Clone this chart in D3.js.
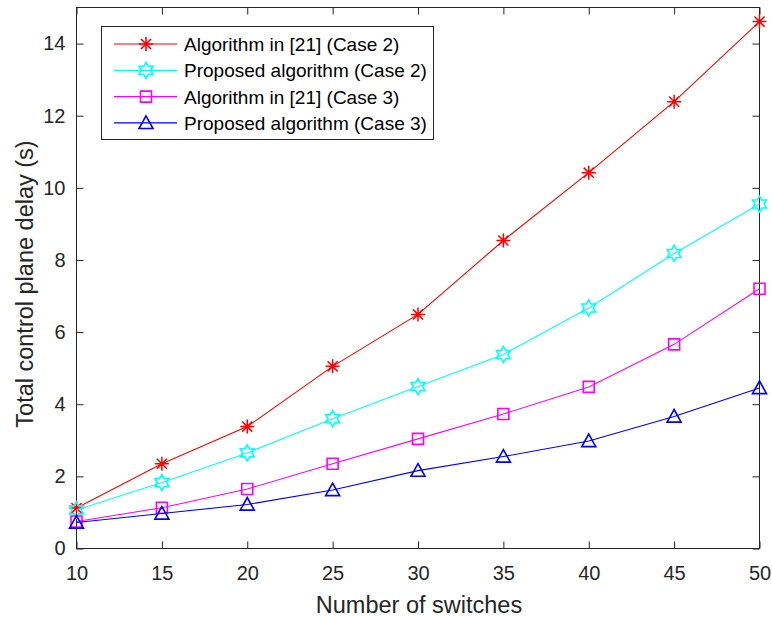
<!DOCTYPE html>
<html><head><meta charset="utf-8">
<script src="https://cdn.jsdelivr.net/npm/d3@7"></script>
<style>body{margin:0;background:#fff;} text{font-family:"Liberation Sans",Arial,Helvetica,sans-serif;}</style>
</head><body>
<svg id="c" width="772" height="617"></svg>
<script>
const switches = [10,15,20,25,30,35,40,45,50];
const algo21Case2 = [1.12,2.35,3.38,5.05,6.49,8.54,10.42,12.39,14.61];
const propCase2   = [1.07,1.83,2.65,3.6,4.49,5.38,6.67,8.18,9.55];
const algo21Case3 = [0.75,1.13,1.65,2.35,3.04,3.73,4.48,5.66,7.2];
const propCase3   = [0.72,0.97,1.22,1.62,2.16,2.55,2.98,3.66,4.45];
const seriesNames = ["Algorithm in [21] (Case 2)","Proposed algorithm (Case 2)","Algorithm in [21] (Case 3)","Proposed algorithm (Case 3)"];
const seriesColors = ["#ff0000","#00ffff","#ff00ff","#0000ff"];
const seriesMarkers = ["star","hexagram","square","triangle"];
const xTicks = [10,15,20,25,30,35,40,45,50];
const yTicks = [0,2,4,6,8,10,12,14];

const series = [algo21Case2, propCase2, algo21Case3, propCase3].map((v,i)=>({name:seriesNames[i],color:seriesColors[i],marker:seriesMarkers[i],values:v}));

const svg = d3.select("#c");
const L=76.5, R=759.5, T=7.5, B=548.5;
const x = d3.scaleLinear().domain([10,50]).range([L,R]);
const y = d3.scaleLinear().domain([0,15]).range([B,T]);
const axisCol = "#262626";

function markerPath(type){
  if(type==="star"){ const r=7; let p=""; 
    p+=`M${-r},0L${r},0M0,${-r}L0,${r}`; const d=r*0.72; p+=`M${-d},${-d}L${d},${d}M${-d},${d}L${d},${-d}`; return p;}
  if(type==="hexagram"){ const r=8, ri=r*0.577; let pts=[];
    for(let k=0;k<12;k++){const a=-Math.PI/2+k*Math.PI/6; const rr=k%2===0?r:ri; pts.push([rr*Math.cos(a),rr*Math.sin(a)]);}
    return "M"+pts.map(p=>p.join(",")).join("L")+"Z";}
  if(type==="square"){ const s=5.5; return `M${-s},${-s}L${s},${-s}L${s},${s}L${-s},${s}Z`;}
  if(type==="triangle"){ const h=7; return `M0,${-h}L${h},${h*0.8}L${-h},${h*0.8}Z`;}
}

const g = svg.append("g");
g.append("rect").attr("x",L).attr("y",T).attr("width",R-L).attr("height",B-T).attr("fill","none").attr("stroke",axisCol).attr("stroke-width",1);

const xb = g.append("g").attr("transform",`translate(0,${B})`).call(d3.axisBottom(x).tickValues(xTicks).tickSize(-7).tickPadding(17));
const xt = g.append("g").attr("transform",`translate(0,${T})`).call(d3.axisTop(x).tickValues(xTicks).tickSize(-7).tickFormat(""));
const yl = g.append("g").attr("transform",`translate(${L},0)`).call(d3.axisLeft(y).tickValues(yTicks).tickSize(-7).tickPadding(11));
const yr = g.append("g").attr("transform",`translate(${R},0)`).call(d3.axisRight(y).tickValues(yTicks).tickSize(-7).tickFormat(""));
[xb,xt,yl,yr].forEach(a=>{a.select(".domain").remove(); a.selectAll("line").attr("stroke",axisCol); a.selectAll("text").attr("fill",axisCol).style("font-size","20px").style("font-family","'Liberation Sans',Arial,sans-serif");});

const line = d3.line().x((d,i)=>x(switches[i])).y(d=>y(d));
series.forEach(s=>{
  g.append("path").datum(s.values).attr("d",line).attr("fill","none").attr("stroke",s.color).attr("stroke-width",1.1);
  g.selectAll(null).data(s.values).enter().append("path")
    .attr("transform",(d,i)=>`translate(${x(switches[i])},${y(d)})`)
    .attr("d",markerPath(s.marker)).attr("fill","none").attr("stroke",s.color).attr("stroke-width",s.marker==="star"?1.5:1.6);
});

svg.append("text").attr("x",419).attr("y",613).attr("text-anchor","middle").attr("fill",axisCol).style("font-size","23.5px").text("Number of switches");
svg.append("text").attr("transform",`translate(33,284) rotate(-90)`).attr("text-anchor","middle").attr("fill",axisCol).style("font-size","23.5px").text("Total control plane delay (s)");

const lg = svg.append("g");
lg.append("rect").attr("x",101.5).attr("y",26.5).attr("width",332).attr("height",113).attr("fill","#fff").attr("stroke",axisCol).attr("stroke-width",1);
series.forEach((s,i)=>{
  const yy = 44 + i*26.3;
  lg.append("line").attr("x1",114).attr("x2",177).attr("y1",yy).attr("y2",yy).attr("stroke",s.color).attr("stroke-width",1.2);
  lg.append("path").attr("transform",`translate(146,${yy})`).attr("d",markerPath(s.marker)).attr("fill","none").attr("stroke",s.color).attr("stroke-width",1.6);
  lg.append("text").attr("x",184).attr("y",yy+7).attr("fill","#000").style("font-size","19px").text(s.name);
});
</script>
</body></html>
